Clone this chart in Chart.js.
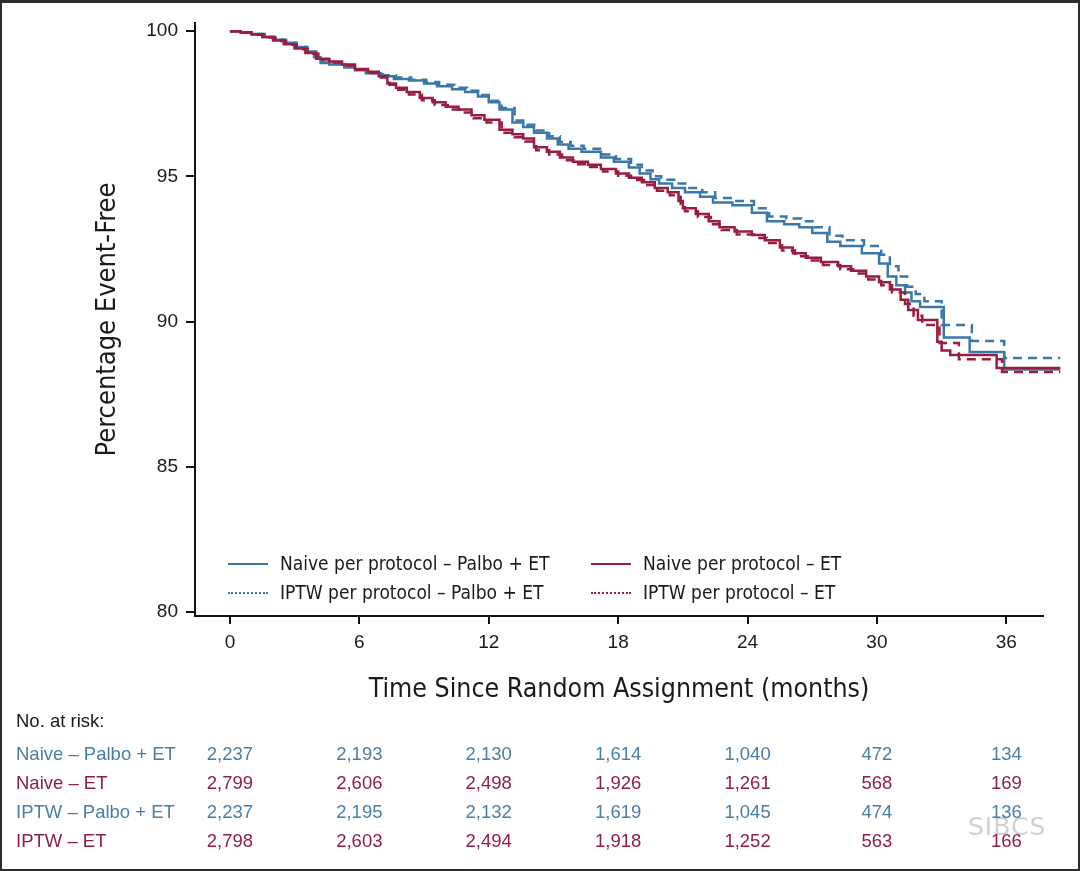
<!DOCTYPE html>
<html>
<head>
<meta charset="utf-8">
<script src="https://cdn.jsdelivr.net/npm/chart.js@4.4.1/dist/chart.umd.min.js"></script>
<style>
  html, body { margin: 0; padding: 0; background: #fff; }
  #wrap { position: relative; width: 1080px; height: 871px; overflow: hidden; }
  #c { position: absolute; left: 0; top: 0; }
  #frame { position: absolute; left: 0; top: 0; right: 0; bottom: 0; border: 2px solid #2b2b2b; border-top-width: 3px; pointer-events: none; }
  .txt { position: absolute; white-space: nowrap; font-family: "Liberation Sans", Arial, sans-serif; font-size: 18.5px; line-height: 20px; }
  .leg { position: absolute; white-space: nowrap; font-family: "Liberation Sans Narrow", "Arial Narrow", "DejaVu Sans Condensed", sans-serif; font-size: 19px; line-height: 22px; color: #1a1a1a; }
  .sw { display: inline-block; width: 40px; height: 0; vertical-align: middle; margin-right: 12px; position: relative; top: -1px; }
  .num { transform: translateX(-50%); }
  #wm { position: absolute; left: 968px; top: 812px; font-family: "DejaVu Sans", sans-serif; font-size: 25px; color: rgba(170,170,170,0.55); letter-spacing: 1px; }
</style>
</head>
<body>
<div id="wrap">
  <canvas id="c" width="1080" height="871"></canvas>
  <div id="wm">SIBCS</div>
  <div id="frame"></div>
</div>
<script>
// axis ticks
const xTicks = [0, 6, 12, 18, 24, 30, 36];
const yTicks = [80, 85, 90, 95, 100];

// Naive per protocol - Palbo + ET
const naivePalboT = [0, 0.5, 1.0, 1.5, 2.0, 2.5, 3.0, 3.5, 3.9, 4.2, 4.6, 5.3, 5.8, 6.3, 7.0, 7.6, 8.3, 9.0, 9.6, 10.3, 10.9, 11.5, 12.0, 12.5, 13.1, 13.6, 14.1, 14.7, 15.2, 15.7, 16.3, 17.2, 17.8, 18.5, 19.0, 19.5, 19.9, 20.5, 21.1, 21.8, 22.4, 23.3, 24.2, 24.9, 25.7, 26.4, 27.0, 27.7, 28.3, 29.3, 30.1, 30.5, 30.9, 31.3, 31.6, 32.0, 33.1, 34.3, 35.9, 38.5];
const naivePalboS = [100, 99.95, 99.9, 99.8, 99.7, 99.6, 99.45, 99.3, 99.1, 98.9, 98.85, 98.75, 98.65, 98.55, 98.45, 98.35, 98.3, 98.2, 98.1, 98.0, 97.9, 97.75, 97.55, 97.3, 96.85, 96.7, 96.5, 96.3, 96.1, 95.95, 95.85, 95.65, 95.5, 95.3, 95.1, 94.9, 94.75, 94.6, 94.45, 94.3, 94.1, 94.0, 93.75, 93.45, 93.35, 93.25, 93.05, 92.75, 92.6, 92.35, 92.0, 91.55, 91.25, 91.0, 90.7, 90.5, 89.45, 88.95, 88.35, 88.35];

// IPTW per protocol - Palbo + ET
const iptwPalboT = [0, 0.6, 1.1, 1.6, 2.1, 2.6, 3.1, 3.6, 4.0, 4.3, 4.8, 5.4, 5.9, 6.4, 7.1, 7.7, 8.4, 9.1, 9.7, 10.4, 11.0, 11.6, 12.1, 12.6, 13.2, 13.7, 14.2, 14.8, 15.3, 15.8, 16.4, 17.3, 17.9, 18.6, 19.1, 19.6, 20.0, 20.6, 21.2, 21.9, 22.5, 23.4, 24.3, 25.0, 25.8, 26.5, 27.1, 27.8, 28.4, 29.4, 30.2, 30.6, 31.0, 31.4, 31.8, 32.2, 33.0, 34.4, 35.9, 38.5];
const iptwPalboS = [100, 99.95, 99.9, 99.8, 99.7, 99.6, 99.45, 99.3, 99.1, 98.92, 98.87, 98.78, 98.68, 98.58, 98.48, 98.4, 98.33, 98.25, 98.15, 98.05, 97.95, 97.8, 97.6, 97.35, 96.92, 96.78, 96.58, 96.38, 96.18, 96.05, 95.95, 95.75, 95.6, 95.4, 95.2, 95.0, 94.88, 94.75, 94.6, 94.45, 94.25, 94.15, 93.9, 93.62, 93.55, 93.45, 93.25, 92.95, 92.8, 92.6, 92.3, 91.9, 91.55, 91.2, 90.95, 90.7, 89.88, 89.33, 88.74, 88.74];

// Naive per protocol - ET
const naiveEtT = [0, 0.5, 1.0, 1.5, 2.0, 2.5, 3.0, 3.5, 4.0, 4.6, 5.2, 5.8, 6.4, 6.9, 7.3, 7.7, 8.2, 8.8, 9.4, 10.0, 10.6, 11.2, 11.8, 12.5, 13.1, 13.6, 14.1, 14.7, 15.3, 15.9, 16.6, 17.2, 17.9, 18.5, 19.1, 19.7, 20.3, 20.8, 21.0, 21.6, 22.2, 22.7, 23.4, 24.2, 24.8, 25.5, 26.1, 26.7, 27.4, 28.2, 28.8, 29.5, 30.1, 30.6, 31.1, 31.45, 31.9, 32.8, 33.0, 33.4, 35.55, 38.5];
const naiveEtS = [100, 99.95, 99.88, 99.8, 99.68, 99.55, 99.4, 99.25, 99.05, 98.95, 98.85, 98.7, 98.6, 98.45, 98.2, 98.05, 97.9, 97.7, 97.55, 97.4, 97.3, 97.1, 96.95, 96.6, 96.45, 96.3, 96.0, 95.85, 95.65, 95.5, 95.4, 95.25, 95.1, 94.95, 94.8, 94.6, 94.45, 94.15, 93.9, 93.7, 93.45, 93.25, 93.1, 92.98, 92.8, 92.55, 92.35, 92.2, 92.05, 91.9, 91.75, 91.55, 91.35, 91.1, 90.75, 90.4, 90.05, 89.3, 89.0, 88.85, 88.4, 88.4];

// IPTW per protocol - ET
const iptwEtT = [0, 0.6, 1.1, 1.6, 2.1, 2.6, 3.1, 3.6, 4.1, 4.7, 5.3, 5.9, 6.5, 7.0, 7.4, 7.8, 8.3, 8.9, 9.5, 10.1, 10.7, 11.3, 11.9, 12.6, 13.2, 13.7, 14.2, 14.8, 15.4, 16.0, 16.7, 17.3, 18.0, 18.6, 19.2, 19.8, 20.4, 20.9, 21.1, 21.7, 22.3, 22.8, 23.5, 24.3, 24.9, 25.6, 26.2, 26.8, 27.5, 28.3, 28.9, 29.6, 30.2, 30.7, 31.3, 31.7, 32.1, 32.9, 33.8, 35.8, 38.5];
const iptwEtS = [100, 99.95, 99.88, 99.78, 99.66, 99.53, 99.38, 99.22, 99.02, 98.92, 98.82, 98.67, 98.56, 98.4, 98.15, 97.98, 97.82, 97.62, 97.46, 97.3, 97.2, 97.0, 96.85, 96.5, 96.35, 96.2, 95.9, 95.75, 95.55, 95.42, 95.32, 95.17, 95.02, 94.87, 94.7, 94.5, 94.35, 94.05, 93.8, 93.6, 93.35, 93.15, 93.0, 92.88, 92.7, 92.45, 92.25, 92.1, 91.95, 91.8, 91.65, 91.45, 91.25, 91.0, 90.6, 90.2, 89.88, 89.26, 88.7, 88.26, 88.26];

const seriesLabels = ['Naive per protocol \u2013 Palbo + ET', 'IPTW per protocol \u2013 Palbo + ET', 'Naive per protocol \u2013 ET', 'IPTW per protocol \u2013 ET'];

// number at risk
const riskLabels = ['Naive \u2013 Palbo + ET', 'Naive \u2013 ET', 'IPTW \u2013 Palbo + ET', 'IPTW \u2013 ET'];
const riskNaivePalbo = ['2,237', '2,193', '2,130', '1,614', '1,040', '472', '134'];
const riskNaiveEt = ['2,799', '2,606', '2,498', '1,926', '1,261', '568', '169'];
const riskIptwPalbo = ['2,237', '2,195', '2,132', '1,619', '1,045', '474', '136'];
const riskIptwEt = ['2,798', '2,603', '2,494', '1,918', '1,252', '563', '166'];

const blue = '#3b78a8';
const red = '#981d3e';
const blueText = '#4a7ea8';
const redText = '#8f1f3f';
const sansFont = '"Liberation Sans", Arial, sans-serif';
const narrowFont = '"Liberation Sans Narrow", "Arial Narrow", "DejaVu Sans Condensed", sans-serif';

function pts(t, s) {
    return t.map((v, i) => ({ x: v, y: s[i] }));
}

function line(t, s, color, dash) {
    return {
        data: pts(t, s),
        borderColor: color,
        borderWidth: 2.5,
        borderDash: dash,
        stepped: true,
        pointRadius: 0,
        fill: false,
        clip: false
    };
}

const chart = new Chart(document.querySelector('#c'), {
    type: 'line',
    data: {
        datasets: [
            line(naiveEtT, naiveEtS, red, []),
            line(iptwEtT, iptwEtS, red, [9, 6]),
            line(naivePalboT, naivePalboS, blue, []),
            line(iptwPalboT, iptwPalboS, blue, [9, 6])
        ]
    },
    options: {
        responsive: false,
        animation: false,
        layout: { padding: { left: 80, top: 23, right: 37, bottom: 155 } },
        plugins: { legend: { display: false }, tooltip: { enabled: false } },
        scales: {
            x: {
                type: 'linear',
                min: -1.62,
                max: 37.7,
                afterBuildTicks: s => { s.ticks = xTicks.map(v => ({ value: v })); },
                afterFit: s => { s.height = 100; },
                grid: { drawOnChartArea: false, drawTicks: true, tickLength: 8, color: '#111', lineWidth: 2 },
                border: { display: true, color: '#111', width: 2 },
                ticks: { color: '#1a1a1a', font: { family: sansFont, size: 19 }, padding: 7, maxRotation: 0, autoSkip: false },
                title: {
                    display: true,
                    text: 'Time Since Random Assignment (months)',
                    color: '#1a1a1a',
                    font: { family: narrowFont, size: 26.5 },
                    padding: { top: 0, bottom: 10 }
                }
            },
            y: {
                type: 'linear',
                min: 79.86,
                max: 100.28,
                afterBuildTicks: s => { s.ticks = yTicks.map(v => ({ value: v })); },
                afterFit: s => { s.width = 115; },
                grid: { drawOnChartArea: false, drawTicks: true, tickLength: 9, color: '#111', lineWidth: 2 },
                border: { display: true, color: '#111', width: 2 },
                ticks: { color: '#1a1a1a', font: { family: sansFont, size: 19 }, padding: 8 },
                title: {
                    display: true,
                    text: 'Percentage Event-Free',
                    color: '#1a1a1a',
                    font: { family: narrowFont, size: 27 },
                    padding: { top: 12, bottom: 0 }
                }
            }
        }
    }
});

// legend inside the plot
const wrap = document.querySelector('#wrap');
const legendItems = [
    { label: seriesLabels[0], color: blue, style: 'solid', left: 228, top: 552 },
    { label: seriesLabels[1], color: blue, style: 'dotted', left: 228, top: 581 },
    { label: seriesLabels[2], color: red, style: 'solid', left: 591, top: 552 },
    { label: seriesLabels[3], color: red, style: 'dotted', left: 591, top: 581 }
];
legendItems.forEach(item => {
    const d = document.createElement('div');
    d.className = 'leg';
    d.style.left = item.left + 'px';
    d.style.top = item.top + 'px';
    const sw = document.createElement('span');
    sw.className = 'sw';
    sw.style.borderTop = (item.style === 'solid' ? '2.5px solid ' : '2.5px dotted ') + item.color;
    d.appendChild(sw);
    d.appendChild(document.createTextNode(item.label));
    wrap.appendChild(d);
});

// number at risk table, columns on the x scale ticks
function addText(text, left, top, color, cls) {
    const d = document.createElement('div');
    d.className = 'txt' + (cls ? ' ' + cls : '');
    d.style.left = left + 'px';
    d.style.top = top + 'px';
    d.style.color = color;
    d.textContent = text;
    wrap.appendChild(d);
}

addText('No. at risk:', 16, 711, '#1a1a1a');
const riskRows = [
    { values: riskNaivePalbo, color: blueText },
    { values: riskNaiveEt, color: redText },
    { values: riskIptwPalbo, color: blueText },
    { values: riskIptwEt, color: redText }
];
const xs = chart.scales.x;
riskRows.forEach((row, r) => {
    const top = 744 + r * 29;
    addText(riskLabels[r], 16, top, row.color);
    row.values.forEach((v, i) => {
        addText(v, xs.getPixelForValue(xTicks[i]), top, row.color, 'num');
    });
});
</script>
</body>
</html>
